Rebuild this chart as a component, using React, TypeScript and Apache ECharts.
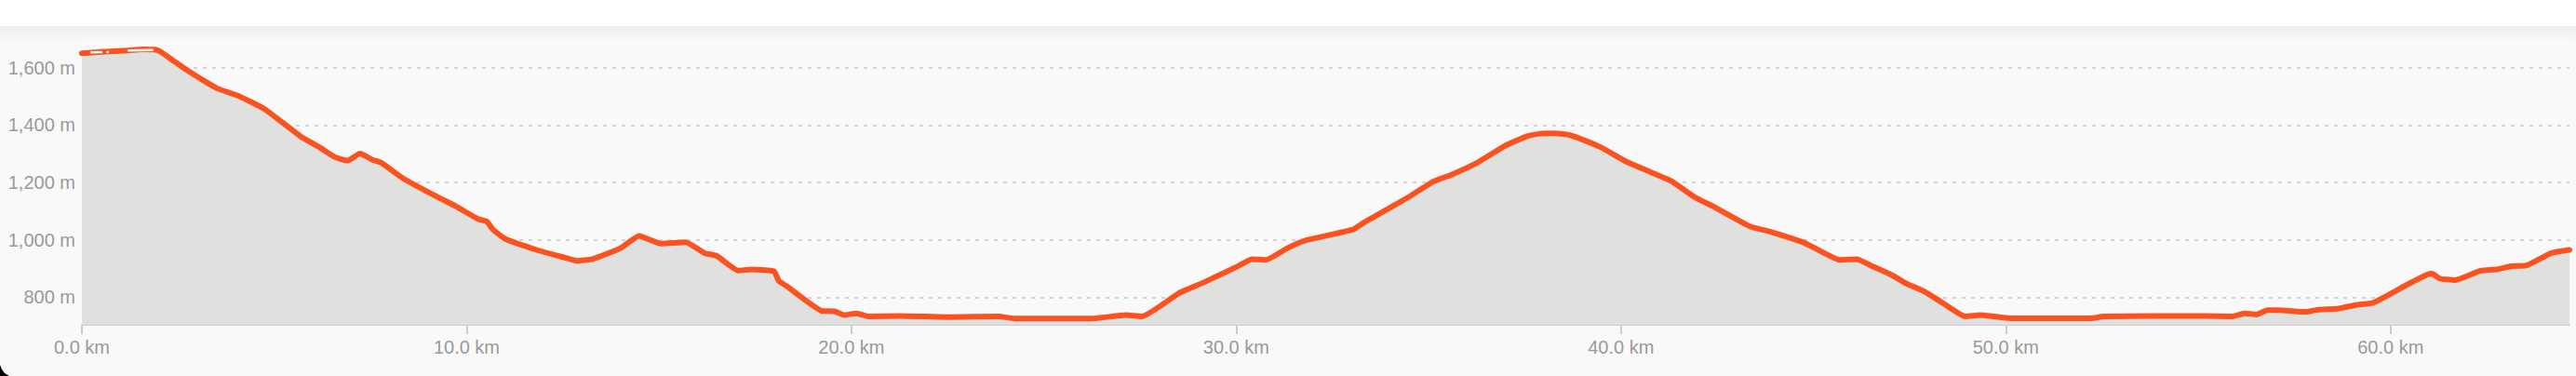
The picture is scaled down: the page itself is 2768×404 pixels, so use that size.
import React, { useEffect, useRef } from 'react';
import * as echarts from 'echarts';

// Distance along route (km)
const distanceKm = [
  0.0, 0.5, 1.2, 1.58, 1.9, 2.06, 2.4, 2.71, 3.1, 3.51, 4.08, 4.73, 5.2, 5.69, 6.18, 6.58, 6.9, 7.23, 7.55,
  7.79, 8.35, 9.16, 9.72, 10.29, 10.53, 10.69, 11.01, 11.82, 12.55, 12.87, 13.27, 14.0, 14.48, 15.05, 15.69,
  16.18, 16.5, 17.06, 17.39, 17.99, 18.11, 18.35, 18.51, 19.24, 19.56, 19.8, 20.13, 20.45, 21.25, 22.55, 23.83,
  24.24, 26.25, 27.14, 27.54, 28.51, 29.16, 30.04, 30.41, 30.77, 31.33, 31.8, 33.03, 33.35, 34.48, 35.12, 35.61,
  36.25, 36.98, 37.54, 37.9, 38.19, 38.5, 38.75, 39.48, 40.12, 40.77, 41.33, 41.91, 42.39, 43.35, 43.83, 44.72,
  45.04, 45.69, 46.13, 46.49, 47.06, 47.38, 47.9, 48.35, 48.95, 49.35, 50.12, 52.22, 52.54, 55.15, 55.88, 56.2,
  56.52, 56.8, 57.08, 57.81, 58.13, 58.62, 59.1, 59.55, 60.39, 60.96, 61.08, 61.28, 61.68, 62.33, 62.81, 63.13,
  63.54, 64.18, 64.65,
];

// Elevation (m)
const elevationM = [
  1650, 1655, 1660, 1664, 1663, 1654, 1622, 1593, 1560, 1528, 1501, 1457, 1410, 1360, 1322, 1288, 1276, 1301, 1279,
  1268, 1214, 1155, 1117, 1073, 1063, 1035, 1003, 965, 938, 927, 933, 971, 1014, 987, 992,
  954, 944, 893, 897, 890, 857, 836, 819, 752, 751, 738, 744, 733, 735, 731, 733,
  726, 726, 738, 733, 814, 852, 908, 933, 930, 971, 998, 1036, 1063, 1149, 1203, 1228,
  1268, 1327, 1360, 1370, 1371, 1369, 1362, 1322, 1274, 1236, 1203, 1149, 1117, 1047, 1030, 992,
  971, 930, 933, 911, 876, 850, 819, 781, 733, 738, 727, 727, 733, 735, 733, 744,
  740, 755, 755, 749, 757, 760, 773, 781, 841, 879, 882, 865, 860, 892, 898, 908,
  911, 954, 965,
];

// Small white marks drawn on the line near the start
const markSegmentsKm = [
  [0.22, 0.53],
  [0.64, 0.7],
  [1.19, 1.86],
];
const markSegmentsM = [
  [1653, 1654],
  [1654, 1654],
  [1660, 1661],
];

const yTickValues = [800, 1000, 1200, 1400, 1600];
const yMin = 704;
const yMax = 1680;
const xMax = 64.65;

const FONT = '"Helvetica Neue", Helvetica, "Liberation Sans", Arial, sans-serif';

export default function App() {
  const ref = useRef<HTMLDivElement>(null);

  useEffect(() => {
    document.body.style.margin = '0';
    document.body.style.background = '#ffffff';
    const chart = echarts.init(ref.current!, null, { renderer: 'svg' });

    const lineData = distanceKm.map((d, i) => [d, elevationM[i]]);
    const markSeries = markSegmentsKm.map((seg, i) => ({
      type: 'line',
      data: [
        [seg[0], markSegmentsM[i][0]],
        [seg[1], markSegmentsM[i][1]],
      ],
      symbol: 'none',
      silent: true,
      z: 5,
      lineStyle: { color: '#ffffff', width: 2.5 },
    }));

    chart.setOption({
      animation: false,
      textStyle: { fontFamily: FONT },
      grid: { left: 88, right: 7, top: 48, bottom: 55, containLabel: false },
      graphic: [
        {
          type: 'rect',
          shape: { x: 0, y: 28, width: 2768, height: 376 },
          style: { fill: '#f9f9f9' },
          z: -20,
          silent: true,
        },
        {
          type: 'rect',
          shape: { x: 0, y: 28, width: 2768, height: 18 },
          style: {
            fill: new echarts.graphic.LinearGradient(0, 0, 0, 1, [
              { offset: 0, color: '#eeeeee' },
              { offset: 1, color: '#f9f9f9' },
            ]),
          },
          z: -19,
          silent: true,
        },
        {
          type: 'rect',
          shape: { x: 88, y: 47, width: 2673, height: 1.5 },
          style: { fill: '#ffffff' },
          z: -18,
          silent: true,
        },
        {
          type: 'polygon',
          shape: { points: [[0, 392], [0, 404], [10, 404], [5, 401], [2, 397]] },
          style: { fill: '#000000' },
          z: -17,
          silent: true,
        },
      ],
      xAxis: {
        type: 'value',
        min: 0,
        max: xMax,
        interval: 10,
        axisLine: { show: true, lineStyle: { color: '#cccccc', width: 2 } },
        axisTick: { show: true, length: 10, lineStyle: { color: '#cccccc', width: 2 } },
        axisLabel: {
          margin: 14,
          color: '#999999',
          fontSize: 20,
          fontFamily: FONT,
          showMaxLabel: false,
          formatter: (v: number) => v.toFixed(1) + ' km',
        },
        splitLine: { show: false },
      },
      yAxis: {
        type: 'value',
        min: yMin,
        max: yMax,
        axisLine: { show: false },
        axisTick: { show: false, customValues: yTickValues },
        axisLabel: {
          customValues: yTickValues,
          margin: 7,
          color: '#999999',
          fontSize: 20,
          fontFamily: FONT,
          formatter: (v: number) => v.toLocaleString('en-US') + ' m',
        },
        splitLine: {
          show: true,
          lineStyle: { color: '#d4d4d4', width: 2, type: [4, 6] },
        },
      },
      series: [
        {
          type: 'line',
          data: lineData,
          symbol: 'none',
          smooth: 0.15,
          lineStyle: { color: '#fc521f', width: 6, join: 'round', cap: 'round' },
          areaStyle: { color: '#e0e0df', opacity: 1 },
          z: 3,
        },
        ...markSeries,
      ],
    });

    return () => chart.dispose();
  }, []);

  return <div ref={ref} style={{ width: 2768, height: 404 }} />;
}
